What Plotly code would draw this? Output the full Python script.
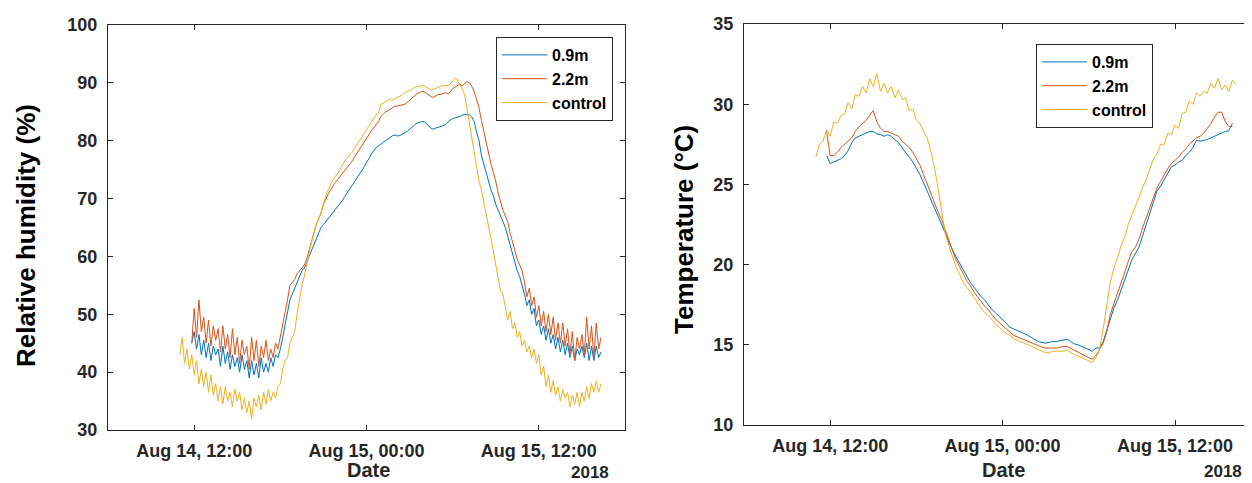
import pandas as pd
import plotly.graph_objects as go

# sampling grids (2018): RH every 10 min, temperature every 15 min
rh_times = pd.date_range("2018-08-14 11:00", periods=177, freq="10min")
t_times = pd.date_range("2018-08-14 11:00", periods=118, freq="15min")

series_names = ["0.9m", "2.2m", "control"]
series_colors = ["#0072BD", "#D95319", "#EDB120"]

tick_vals = ["2018-08-14 12:00", "2018-08-15 00:00", "2018-08-15 12:00"]
tick_text = ["Aug 14, 12:00", "Aug 15, 00:00", "Aug 15, 12:00"]

# relative humidity (%), one row per hour
rh_09 = [None, None, None, None, None, 45,
         47, 44, 46.5, 43, 45.5, 42.5,
         45, 42, 44.5, 43, 44, 41,
         44.5, 41.5, 43.5, 40.5, 43, 41,
         42.5, 40, 43, 40.5, 42, 39,
         42, 39.5, 41.5, 39, 42.5, 40,
         41.5, 40, 42.5, 41, 43, 42.5,
         44, 46, 48, 50.5, 52.5, 53.5,
         54.5, 55.5, 56.5, 57.5, 58, 58.8,
         60, 61, 62, 63.3, 64.2, 65,
         65.5, 66, 66.6, 67.1, 67.6, 68,
         68.5, 69.1, 69.7, 70.4, 71, 71.6,
         72.3, 73, 73.6, 74.2, 74.8, 75.5,
         76.1, 76.9, 77.7, 78.3, 78.8, 79.1,
         79.4, 79.7, 80.1, 80.4, 80.7, 80.9,
         81, 80.8, 80.9, 81.2, 81.4, 81.6,
         82, 82.4, 82.7, 83, 83.2, 83.3,
         83.3, 83, 82.6, 82.1, 82, 82.2,
         82.3, 82.4, 82.6, 82.8, 83.2, 83.6,
         83.8, 83.9, 84, 84.2, 84.4, 84.6,
         84.5, 84.5, 84.1, 83.3, 81.5, 80,
         77.5, 76, 74.5, 73, 71.5, 70.5,
         69, 68, 67, 66, 65, 63.5,
         62, 60.5, 59, 57.5, 56.5, 55,
         53.5, 51.5, 52.5, 50, 51, 48,
         49, 46.5, 48, 45.5, 47.5, 45,
         46.5, 44, 46, 43.5, 45.5, 43,
         45, 42.5, 44.5, 42, 44, 43,
         44.5, 42.5, 45, 42, 44.5, 42,
         44.5, 42.5, 43.5]
rh_22 = [None, None, None, None, None, 45,
         51, 46, 52.5, 47, 49.5, 45,
         49, 44.5, 48, 45.5, 47.5, 43.5,
         48, 44, 46.5, 42.5, 47.5, 43,
         46, 41.5, 45.5, 43, 44.5, 40.5,
         46, 42, 45.5, 41, 44.5, 42.5,
         45.5, 42, 44, 42.5, 45, 44,
         46, 48, 50, 52.5, 55, 55.5,
         56, 57, 57.5, 58, 58.5, 59.5,
         61, 62.5, 64, 65.5, 66.5, 67.5,
         69, 70, 70.8, 71.5, 72.2, 72.8,
         73.3, 73.8, 74.3, 74.8, 75.3, 75.8,
         76.5, 77.2, 77.8, 78.5, 79.2, 79.8,
         80.3, 81, 81.7, 82.3, 82.8, 83.3,
         84.2, 84.6, 85, 85.2, 85.5, 85.8,
         86, 86, 86.1, 86.3, 86.3, 86.6,
         87, 87.4, 87.8, 88.1, 88.3, 88.5,
         88.5, 88.2, 87.8, 87.6, 87.5, 87.7,
         88, 88, 88.2, 88.3, 88.1, 88.4,
         89, 89.3, 89.6, 89.8, 89.5, 89.9,
         90.2, 90, 89.4, 88.5, 87.3, 85.7,
         83.5, 81.5, 79.5, 77.5, 76, 74.5,
         73, 71, 69.5, 68, 67, 66,
         64, 62.5, 61, 59.5, 58.5, 57.5,
         55.5, 53, 54.5, 51.5, 53, 49.5,
         51.5, 48, 50.5, 47, 50, 46.5,
         49.5, 45.5, 48.5, 45, 48.5, 44.5,
         47.5, 43, 47, 42, 46, 44,
         46.5, 43, 49.5, 44, 48, 42.5,
         48.5, 44, 46]
rh_ctrl = [43, 46, 41.5, 44, 40.5, 43,
           39.5, 42, 38, 40.5, 37.5, 40,
           36.5, 39.5, 36, 38, 35, 37.5,
           34.5, 37.5, 35, 36.5, 34, 37,
           35, 36.5, 33.5, 35.5, 33, 35,
           32, 35.5, 34, 36, 33.5, 36.5,
           34.5, 37, 35, 36.5, 35.5, 37.5,
           38, 40.5, 42, 42.5, 45, 46,
           47, 50, 52.5, 55, 56.5, 58.5,
           61, 62.5, 64, 65.5, 66.5, 67.5,
           69, 70.5, 71.5, 72.5, 73.2, 73.8,
           74.3, 75, 75.8, 76.6, 77, 77.5,
           78, 78.7, 79.3, 80, 80.6, 81.2,
           81.8, 82.5, 83.2, 83.8, 84.5, 84.8,
           86.3, 86.5, 86.8, 87, 87.2, 87,
           87.3, 87.5, 87.6, 87.9, 88.3, 88.5,
           88.6, 88.9, 89.2, 89.3, 89.5, 89.5,
           89.5, 89.3, 89, 88.8, 88.9, 89.1,
           89.3, 89.4, 89.5, 89.6, 89.5, 89.8,
           90.3, 90.8, 90.6, 89.6, 89, 88,
           85.5, 83, 80.5, 78, 75, 73,
           71.5, 69.5, 67.5, 65.5, 63, 61,
           58.5, 56, 54, 53.5, 51.5, 49,
           50.5, 47.5, 48.5, 46, 47, 44.5,
           45.5, 43.5, 44.5, 42.5, 44, 41.5,
           43, 39.5, 41, 37.5, 39.5, 36.5,
           38.5, 36, 37.5, 35, 37, 35.5,
           36.5, 34, 36, 34.5, 36.5, 34,
           36.5, 35, 37.5, 35.5, 38, 36.5,
           38.5, 36.5, 38]

# temperature (deg C)
t_09 = [None, None, None, 26.8, 26.3, 26.4, 26.5, 26.6, 26.8, 27.1,
        27.6, 27.9, 28.0, 28.1, 28.2, 28.3, 28.3, 28.15, 28.1, 28.0,
        28.1, 28.0, 27.8, 27.6, 27.3, 27.0, 26.7, 26.4, 26.0, 25.6,
        25.1, 24.6, 24.0, 23.6, 23.1, 22.6, 22.0, 21.4, 20.9, 20.5,
        20.1, 19.7, 19.3, 18.9, 18.6, 18.3, 18.0, 17.8, 17.5, 17.2,
        17.0, 16.8, 16.6, 16.35, 16.1, 16.0, 15.9, 15.8, 15.75, 15.6,
        15.45, 15.3, 15.2, 15.15, 15.1, 15.15, 15.2, 15.2, 15.25, 15.3,
        15.35, 15.2, 15.05, 15.0, 14.9, 14.8, 14.65, 14.6, 14.8, 14.8,
        15.2, 15.9, 16.7, 17.3, 17.8, 18.4, 19.0, 19.7, 20.3, 20.7,
        21.1, 21.8, 22.5, 23.2, 23.9, 24.6, 24.9, 25.3, 25.7, 26.1,
        26.2, 26.4, 26.5, 26.8, 27.0, 27.3, 27.75, 27.7, 27.75, 27.8,
        27.9, 28.0, 28.1, 28.25, 28.3, 28.35, 28.8, None]
t_22 = [None, None, None, 28.3, 26.8, 26.8, 27.0, 27.3, 27.5, 27.7,
        27.9, 28.3, 28.6, 28.8, 29.0, 29.3, 29.6, 28.9, 28.5, 28.3,
        28.3, 28.2, 28.1, 28.0, 27.7, 27.5, 27.3, 27.0, 26.6, 26.2,
        25.6, 25.0, 24.4, 23.9, 23.3, 22.8, 22.2, 21.5, 20.9, 20.3,
        19.9, 19.4, 19.0, 18.7, 18.3, 18.0, 17.7, 17.4, 17.2, 16.9,
        16.6, 16.4, 16.2, 16.0, 15.8, 15.6, 15.5, 15.4, 15.3, 15.2,
        15.1, 15.0, 14.9, 14.85, 14.8, 14.8, 14.8, 14.8, 14.85, 14.9,
        14.9, 14.75, 14.65, 14.55, 14.4, 14.3, 14.2, 14.1, 14.35, 14.7,
        15.1, 15.8, 16.9, 17.6, 18.2, 18.9, 19.5, 20.2, 20.8, 21.1,
        21.6, 22.3, 22.9, 23.6, 24.2, 24.8, 25.2, 25.6, 26.0, 26.3,
        26.5, 26.7, 27.0, 27.2, 27.5, 27.7, 27.9, 28.0, 28.2, 28.5,
        28.8, 29.2, 29.5, 29.5, 28.9, 28.6, 28.6, None]
t_ctrl = [26.7, 27.5, 27.7, 28.4, 28.0, 28.9, 28.8, 29.3, 29.4, 30.1,
          29.7, 30.6, 30.5, 31.1, 30.7, 31.6, 31.1, 31.9, 30.8, 31.3,
          30.7, 31.1, 30.4, 30.9, 30.3, 30.4, 29.6, 29.7, 29.0, 28.8,
          28.3, 27.9, 27.1, 26.1, 24.8, 23.3, 22.0, 21.2, 20.5, 19.9,
          19.4, 18.9, 18.6, 18.3, 18.0, 17.6, 17.3, 17.0, 16.8, 16.6,
          16.3, 16.1, 15.9, 15.7, 15.6, 15.4, 15.3, 15.2, 15.1, 15.0,
          14.9, 14.8, 14.7, 14.6, 14.5, 14.5, 14.6, 14.6, 14.6, 14.6,
          14.7, 14.5, 14.4, 14.3, 14.2, 14.1, 14.0, 13.9, 14.2, 14.7,
          16.0, 17.5, 18.9, 19.8, 20.4, 21.2, 21.7, 22.5, 23.1, 23.7,
          24.3, 24.8, 25.3, 25.9, 26.6, 26.9, 27.5, 27.5, 28.2, 28.1,
          28.7, 28.5, 29.4, 29.5, 30.2, 30.0, 30.7, 30.5, 30.8, 30.7,
          31.3, 31.0, 31.6, 30.9, 31.2, 30.8, 31.5, 31.2]

W, H = 1252, 483
OFF = 8  # page body margin around the plot div
FONT = "Liberation Sans, Arial, sans-serif"
INK = "#262626"


def px_x(p):
    return (p - OFF) / W


def px_y(p):
    return (H - (p - OFF)) / H


fig = go.Figure()
for name, color, ys in zip(series_names, series_colors, [rh_09, rh_22, rh_ctrl]):
    fig.add_trace(go.Scatter(x=rh_times, y=ys, name=name, mode="lines",
                             line=dict(color=color, width=1), xaxis="x", yaxis="y",
                             legend="legend"))
for name, color, ys in zip(series_names, series_colors, [t_09, t_22, t_ctrl]):
    fig.add_trace(go.Scatter(x=t_times, y=ys, name=name, mode="lines",
                             line=dict(color=color, width=1), xaxis="x2", yaxis="y2",
                             legend="legend2"))

axis_common = dict(showline=True, linecolor=INK, linewidth=1, ticks="inside",
                   ticklen=5, tickcolor=INK, showgrid=False, zeroline=False,
                   automargin=False,
                   tickfont=dict(family=FONT, size=18, color=INK, weight="bold"))
legend_common = dict(xanchor="left", yanchor="top", bgcolor="white",
                     bordercolor=INK, borderwidth=1, itemwidth=45, tracegroupgap=0,
                     font=dict(family=FONT, size=16, color="black", weight="bold"))

fig.update_layout(
    width=W, height=H, margin=dict(l=0, r=0, t=0, b=0),
    plot_bgcolor="white", paper_bgcolor="white", showlegend=True,
    xaxis=dict(domain=[px_x(108), px_x(625)], anchor="y",
               range=["2018-08-14 06:00", "2018-08-15 18:00"], ticklabelstandoff=4,
               tickvals=tick_vals, ticktext=tick_text, mirror="ticks", **axis_common),
    yaxis=dict(domain=[px_y(430), px_y(25)], anchor="x", range=[30, 100],
               ticklabelstandoff=6,
               tickvals=[30, 40, 50, 60, 70, 80, 90, 100], mirror="ticks", **axis_common),
    xaxis2=dict(domain=[px_x(744), 1.0], anchor="y2",
                range=["2018-08-14 06:00", "2018-08-15 17:55"], ticklabelstandoff=4,
                tickvals=tick_vals, ticktext=tick_text, mirror="ticks", **axis_common),
    yaxis2=dict(domain=[px_y(425), px_y(24)], anchor="x2", range=[10, 35],
                ticklabelstandoff=6,
                tickvals=[10, 15, 20, 25, 30, 35], mirror=False, **axis_common),
    legend=dict(x=px_x(496), y=px_y(37), **legend_common),
    legend2=dict(x=px_x(1036), y=px_y(44), **legend_common),
)

annotations = [
    dict(text="<b>Relative humidity (%)</b>", x=px_x(26), y=px_y(236), textangle=-90,
         font=dict(family=FONT, size=26, color="black")),
    dict(text="<b>Temperature (°C)</b>", x=px_x(684), y=px_y(230), textangle=-90,
         font=dict(family=FONT, size=26, color="black")),
    dict(text="<b>Date</b>", x=px_x(368), y=px_y(470),
         font=dict(family=FONT, size=20, color=INK)),
    dict(text="<b>Date</b>", x=px_x(1003), y=px_y(470),
         font=dict(family=FONT, size=20, color=INK)),
    dict(text="<b>2018</b>", x=px_x(590), y=px_y(472),
         font=dict(family=FONT, size=17, color=INK)),
    dict(text="<b>2018</b>", x=px_x(1223), y=px_y(471),
         font=dict(family=FONT, size=17, color=INK)),
]
for a in annotations:
    fig.add_annotation(xref="paper", yref="paper", showarrow=False,
                       xanchor="center", yanchor="middle", **a)

fig.write_html("out.html")
